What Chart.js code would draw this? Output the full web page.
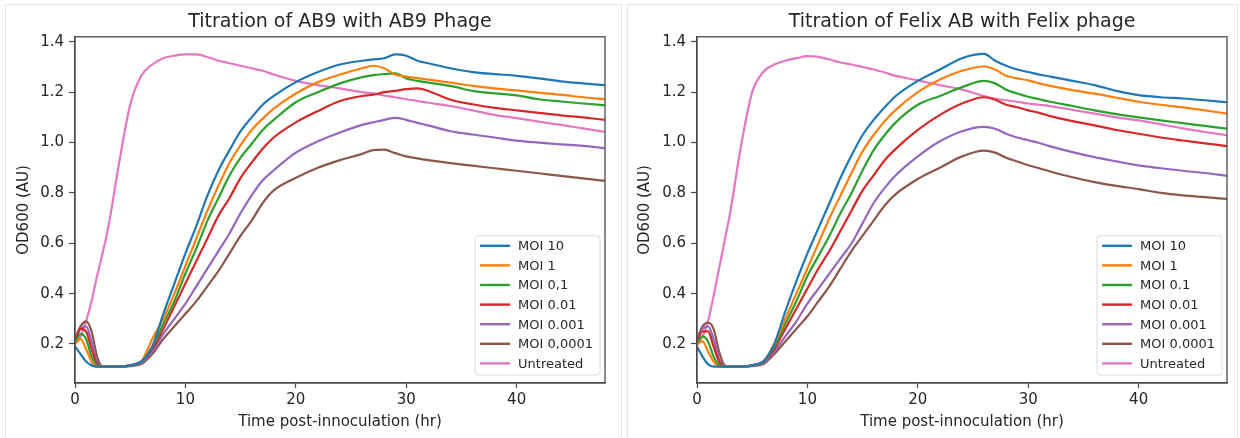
<!DOCTYPE html>
<html>
<head>
<meta charset="utf-8">
<title>Titration</title>
<script src="https://cdn.jsdelivr.net/npm/chart.js@4.4.1/dist/chart.umd.min.js"></script>
<style>
    body { margin: 0; background: #fff; width: 1240px; height: 438px; overflow: hidden; position: relative; }
    .frame { position: absolute; border: 1px solid #e6e6e6; }
    canvas { position: absolute; top: 0; }
</style>
</head>
<body>
<div class="frame" style="left:5px;top:4px;width:615px;height:440px"></div>
<div class="frame" style="left:627px;top:4px;width:609px;height:440px"></div>
<canvas id="ab9" width="620" height="438" style="left:0"></canvas>
<canvas id="felix" width="620" height="438" style="left:620px"></canvas>
<script>
// 时间 (hr)
const timeHr = [0, 0.5, 1, 1.5, 2, 2.5, 3, 4, 5, 6, 7, 8, 9, 10, 11, 12, 13, 14, 15, 16, 17, 18,
    20, 22, 24, 26, 27, 28, 29, 30, 31, 32, 34, 36, 38, 40, 42, 44, 46, 48];

const ab9Labels = ['MOI 10', 'MOI 1', 'MOI 0,1', 'MOI 0.01', 'MOI 0.001', 'MOI 0,0001', 'Untreated'];
const felixLabels = ['MOI 10', 'MOI 1', 'MOI 0.1', 'MOI 0.01', 'MOI 0.001', 'MOI 0.0001', 'Untreated'];

// 左图: AB9
const ab9Moi10 = [0.19, 0.16, 0.13, 0.115, 0.11, 0.11, 0.11, 0.11, 0.115, 0.13, 0.19, 0.32, 0.44, 0.56,
    0.67, 0.79, 0.89, 0.97, 1.045, 1.1, 1.15, 1.185, 1.24, 1.28, 1.31, 1.325,
    1.33, 1.335, 1.35, 1.345, 1.325, 1.315, 1.295, 1.28, 1.272, 1.265, 1.255, 1.243, 1.235, 1.228];
const ab9Moi1 = [0.2, 0.22, 0.18, 0.13, 0.11, 0.11, 0.11, 0.11, 0.115, 0.13, 0.22, 0.30, 0.40, 0.51,
    0.62, 0.73, 0.83, 0.92, 0.99, 1.05, 1.095, 1.135, 1.195, 1.24, 1.27, 1.295,
    1.305, 1.295, 1.27, 1.262, 1.256, 1.25, 1.238, 1.225, 1.215, 1.207, 1.198, 1.19, 1.18, 1.172];
const ab9Moi01 = [0.2, 0.24, 0.22, 0.15, 0.115, 0.11, 0.11, 0.11, 0.115, 0.13, 0.19, 0.28, 0.37, 0.48,
    0.58, 0.69, 0.78, 0.87, 0.94, 0.995, 1.05, 1.09, 1.16, 1.2, 1.235, 1.26,
    1.268, 1.272, 1.275, 1.255, 1.245, 1.238, 1.225, 1.205, 1.195, 1.187, 1.172, 1.163, 1.155, 1.148];
const ab9Moi001 = [0.21, 0.26, 0.25, 0.18, 0.12, 0.11, 0.11, 0.11, 0.115, 0.13, 0.18, 0.26, 0.35, 0.44,
    0.53, 0.62, 0.71, 0.78, 0.86, 0.92, 0.975, 1.02, 1.08, 1.125, 1.165, 1.185,
    1.19, 1.2, 1.205, 1.212, 1.215, 1.205, 1.17, 1.152, 1.138, 1.128, 1.118, 1.108, 1.1, 1.09];
const ab9Moi0001 = [0.22, 0.26, 0.27, 0.21, 0.13, 0.11, 0.11, 0.11, 0.115, 0.125, 0.17, 0.24, 0.30, 0.36,
    0.43, 0.5, 0.57, 0.64, 0.72, 0.79, 0.85, 0.89, 0.96, 1.005, 1.04, 1.07,
    1.08, 1.09, 1.098, 1.09, 1.078, 1.068, 1.045, 1.032, 1.02, 1.008, 1.0, 0.993, 0.987, 0.978];
const ab9Moi00001 = [0.22, 0.27, 0.29, 0.25, 0.15, 0.11, 0.11, 0.11, 0.112, 0.12, 0.16, 0.22, 0.27, 0.32,
    0.37, 0.43, 0.49, 0.56, 0.63, 0.69, 0.76, 0.81, 0.86, 0.9, 0.93, 0.955,
    0.97, 0.972, 0.958, 0.945, 0.937, 0.93, 0.918, 0.908, 0.898, 0.888, 0.878, 0.868, 0.858, 0.848];
const ab9Untreated = [0.2, 0.23, 0.29, 0.37, 0.47, 0.56, 0.66, 0.92, 1.15, 1.265, 1.31, 1.335, 1.345, 1.35,
    1.35, 1.34, 1.325, 1.315, 1.305, 1.295, 1.285, 1.27, 1.245, 1.228, 1.215, 1.2,
    1.195, 1.187, 1.18, 1.172, 1.165, 1.158, 1.145, 1.128, 1.11, 1.097, 1.083, 1.07, 1.056, 1.042];

// 右图: Felix
const felixMoi10 = [0.19, 0.15, 0.12, 0.11, 0.11, 0.11, 0.11, 0.11, 0.115, 0.13, 0.2, 0.33, 0.45, 0.56,
    0.66, 0.76, 0.86, 0.95, 1.03, 1.09, 1.14, 1.185, 1.245, 1.29, 1.335, 1.352,
    1.325, 1.305, 1.29, 1.28, 1.27, 1.262, 1.245, 1.228, 1.205, 1.188, 1.18, 1.175, 1.168, 1.16];
const felixMoi1 = [0.2, 0.21, 0.17, 0.13, 0.11, 0.11, 0.11, 0.11, 0.115, 0.13, 0.2, 0.3, 0.4, 0.5,
    0.6, 0.7, 0.79, 0.88, 0.965, 1.03, 1.085, 1.13, 1.2, 1.25, 1.285, 1.302,
    1.29, 1.265, 1.255, 1.247, 1.235, 1.225, 1.208, 1.194, 1.178, 1.162, 1.15, 1.14, 1.128, 1.115];
const felixMoi01 = [0.2, 0.23, 0.21, 0.15, 0.115, 0.11, 0.11, 0.11, 0.115, 0.13, 0.19, 0.28, 0.37, 0.47,
    0.55, 0.63, 0.72, 0.8, 0.89, 0.97, 1.03, 1.08, 1.15, 1.185, 1.22, 1.245,
    1.235, 1.21, 1.195, 1.182, 1.172, 1.162, 1.145, 1.128, 1.113, 1.1, 1.088, 1.077, 1.066, 1.055];
const felixMoi001 = [0.21, 0.25, 0.25, 0.19, 0.13, 0.11, 0.11, 0.11, 0.115, 0.13, 0.18, 0.26, 0.34, 0.42,
    0.5, 0.57, 0.65, 0.73, 0.81, 0.87, 0.93, 0.975, 1.05, 1.11, 1.155, 1.18,
    1.17, 1.15, 1.14, 1.128, 1.118, 1.105, 1.085, 1.068, 1.05, 1.035, 1.02, 1.008, 0.997, 0.986];
const felixMoi0001 = [0.22, 0.26, 0.27, 0.22, 0.14, 0.11, 0.11, 0.11, 0.115, 0.125, 0.17, 0.23, 0.29, 0.36,
    0.42, 0.48, 0.54, 0.6, 0.68, 0.76, 0.82, 0.87, 0.945, 1.005, 1.045, 1.062,
    1.055, 1.035, 1.02, 1.009, 0.998, 0.985, 0.962, 0.942, 0.925, 0.909, 0.898, 0.888, 0.879, 0.868];
const felixMoi00001 = [0.22, 0.27, 0.285, 0.26, 0.17, 0.115, 0.11, 0.11, 0.112, 0.12, 0.16, 0.21, 0.26, 0.31,
    0.37, 0.43, 0.5, 0.57, 0.63, 0.69, 0.75, 0.795, 0.855, 0.9, 0.945, 0.968,
    0.96, 0.94, 0.925, 0.91, 0.898, 0.885, 0.862, 0.843, 0.828, 0.815, 0.8, 0.79, 0.783, 0.776];
const felixUntreated = [0.2, 0.23, 0.29, 0.39, 0.5, 0.61, 0.72, 0.99, 1.2, 1.28, 1.31, 1.325, 1.335, 1.343,
    1.34, 1.33, 1.318, 1.31, 1.3, 1.29, 1.278, 1.265, 1.247, 1.228, 1.21, 1.185,
    1.175, 1.168, 1.162, 1.155, 1.15, 1.145, 1.13, 1.115, 1.1, 1.088, 1.072, 1.056, 1.042, 1.029];

// matplotlib 默认配色
const lineColors = ['#1f77b4', '#ff7f0e', '#2ca02c', '#d62728', '#9467bd', '#8c564b', '#e377c2'];

const FONT = '"DejaVu Sans", sans-serif';
const INK = '#262626';

// 四周边框
const boxFrame = {
    id: 'boxFrame',
    afterDraw(chart) {
        const {ctx, chartArea: a} = chart;
        ctx.save();
        ctx.strokeStyle = '#4a4a4a';
        ctx.lineWidth = 1.3;
        ctx.strokeRect(a.left, a.top, a.right - a.left, a.bottom - a.top);
        ctx.restore();
    }
};

// 图内右下角图例
const insideLegend = {
    id: 'insideLegend',
    afterDatasetsDraw(chart) {
        const {ctx, chartArea: a} = chart;
        const sets = chart.data.datasets;
        ctx.save();
        ctx.font = '13px ' + FONT;
        let tw = 0;
        sets.forEach(d => { tw = Math.max(tw, ctx.measureText(d.label).width); });
        const rowH = 19.6;
        const w = 5 + 30 + 8 + tw + 7;
        const h = rowH * sets.length + 2;
        const x = a.right - 5 - w;
        const y = a.bottom - 8 - h;
        ctx.fillStyle = 'rgba(255,255,255,0.85)';
        ctx.strokeStyle = '#dadada';
        ctx.lineWidth = 1;
        ctx.beginPath();
        ctx.roundRect(x, y, w, h, 3);
        ctx.fill();
        ctx.stroke();
        ctx.textBaseline = 'middle';
        ctx.textAlign = 'left';
        sets.forEach((d, i) => {
            const cy = y + 10 + i * rowH;
            ctx.strokeStyle = d.borderColor;
            ctx.lineWidth = 2.4;
            ctx.beginPath();
            ctx.moveTo(x + 5, cy);
            ctx.lineTo(x + 35, cy);
            ctx.stroke();
            ctx.fillStyle = INK;
            ctx.fillText(d.label, x + 43, cy + 1);
        });
        ctx.restore();
    }
};

// 创建滴定曲线图
function createTitrationChart(canvasId, title, labels, seriesList, axisWidth, padRight, yTitlePad) {
    const ctx = document.getElementById(canvasId).getContext('2d');
    return new Chart(ctx, {
        type: 'line',
        data: {
            datasets: seriesList.map((vals, i) => ({
                label: labels[i],
                data: timeHr.map((t, k) => ({x: t, y: vals[k]})),
                borderColor: lineColors[i],
                borderWidth: 2.2,
                pointRadius: 0,
                cubicInterpolationMode: 'monotone',
                fill: false
            }))
        },
        options: {
            responsive: false,
            devicePixelRatio: 1,
            animation: false,
            layout: { padding: { left: 0, right: padRight, top: 0, bottom: 0 } },
            plugins: {
                legend: { display: false },
                tooltip: { enabled: false },
                title: {
                    display: true,
                    text: title,
                    fullSize: false,
                    color: INK,
                    font: { family: FONT, size: 19, weight: 'normal', lineHeight: 1.2 },
                    padding: { top: 11, bottom: 3 }
                }
            },
            scales: {
                x: {
                    type: 'linear',
                    min: 0,
                    max: 48,
                    afterFit: s => { s.height = 55; },
                    ticks: {
                        stepSize: 10,
                        includeBounds: false,
                        color: INK,
                        padding: 3,
                        maxRotation: 0,
                        font: { family: FONT, size: 15 }
                    },
                    grid: { drawOnChartArea: false, drawTicks: true, tickLength: 5, tickColor: '#4a4a4a', tickWidth: 1.2 },
                    border: { display: true, color: '#4a4a4a', width: 1.3 },
                    title: {
                        display: true,
                        text: 'Time post-innoculation (hr)',
                        color: INK,
                        font: { family: FONT, size: 15, lineHeight: 1.2 },
                        padding: { top: 0, bottom: 7 }
                    }
                },
                y: {
                    min: 0.045,
                    max: 1.42,
                    afterFit: s => { s.width = axisWidth; },
                    ticks: {
                        stepSize: 0.2,
                        includeBounds: false,
                        color: INK,
                        padding: 5,
                        font: { family: FONT, size: 15 },
                        callback: v => v.toFixed(1)
                    },
                    grid: { drawOnChartArea: false, drawTicks: true, tickLength: 6, tickColor: '#4a4a4a', tickWidth: 1.2 },
                    border: { display: true, color: '#4a4a4a', width: 1.3 },
                    title: {
                        display: true,
                        text: 'OD600 (AU)',
                        color: INK,
                        font: { family: FONT, size: 15, lineHeight: 1.2 },
                        padding: { top: yTitlePad, bottom: 0 }
                    }
                }
            }
        },
        plugins: [insideLegend, boxFrame]
    });
}

createTitrationChart('ab9', 'Titration of AB9 with AB9 Phage', ab9Labels,
    [ab9Moi10, ab9Moi1, ab9Moi01, ab9Moi001, ab9Moi0001, ab9Moi00001, ab9Untreated], 75, 15, 15);
createTitrationChart('felix', 'Titration of Felix AB with Felix phage', felixLabels,
    [felixMoi10, felixMoi1, felixMoi01, felixMoi001, felixMoi0001, felixMoi00001, felixUntreated], 77, 13, 16);
</script>
</body>
</html>
